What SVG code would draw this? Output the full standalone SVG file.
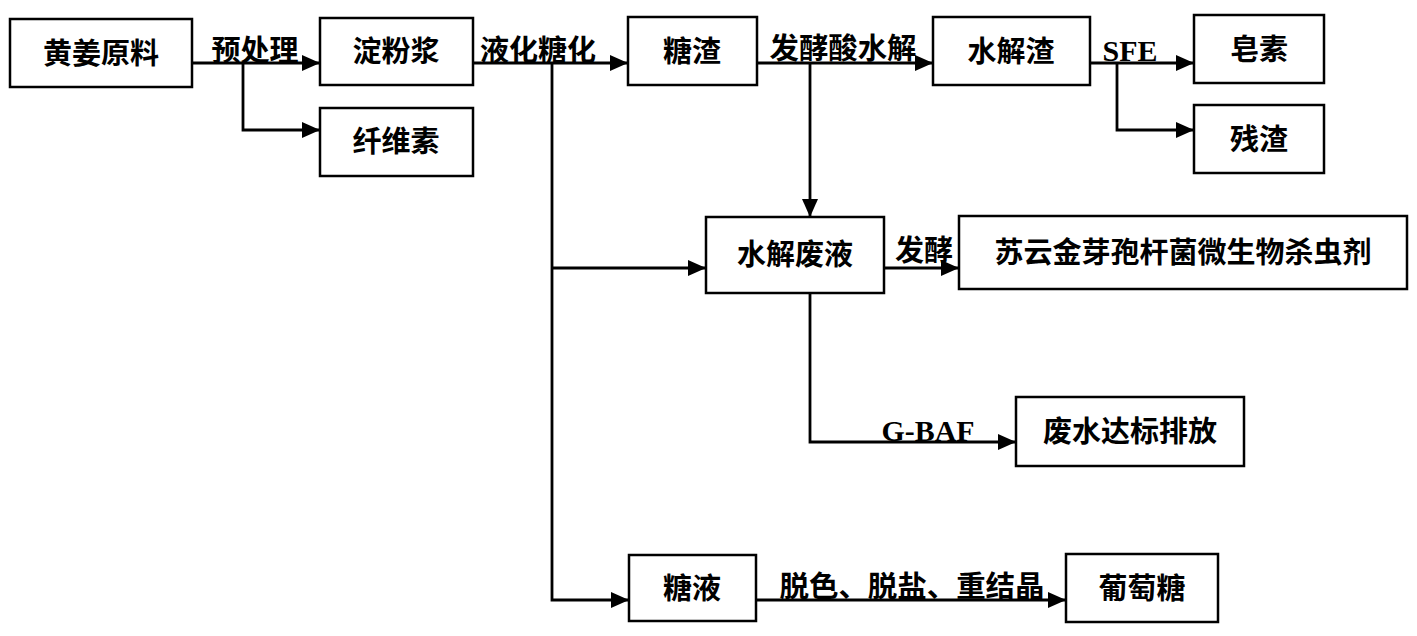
<svg xmlns="http://www.w3.org/2000/svg" width="1417" height="636" viewBox="0 0 1417 636">
<defs>
<marker id="ah" markerUnits="userSpaceOnUse" markerWidth="18" markerHeight="16" refX="18" refY="8" orient="auto">
<path d="M0,0 L18,8 L0,16 z" fill="#000"/>
</marker>
<style>
.box{fill:#fff;stroke:#000;stroke-width:2.5}
.bt{font-family:"Liberation Serif","Noto Sans CJK SC",serif;font-size:29px;text-anchor:middle;fill:#000;font-weight:bold}
.lt{font-family:"Liberation Serif","Noto Sans CJK SC",serif;font-size:29px;text-anchor:middle;fill:#000;font-weight:bold}
.en{font-family:"Liberation Serif",serif;font-size:30px;font-weight:bold;fill:#000;text-anchor:middle}
.ar{fill:none;stroke:#000;stroke-width:2.8;marker-end:url(#ah)}
</style>
</defs>
<rect width="1417" height="636" fill="#fff"/>
<g id="connectors">
<path class="ar" d="M192,63 H320"/>
<path class="ar" d="M243,63 V130 H320"/>
<path class="ar" d="M473,63 H628"/>
<path class="ar" d="M552,63 V600 H629"/>
<path class="ar" d="M552,268 H706"/>
<path class="ar" d="M757,63 H933"/>
<path class="ar" d="M810,63 V217"/>
<path class="ar" d="M1090,63 H1194"/>
<path class="ar" d="M1117,63 V130 H1194"/>
<path class="ar" d="M884,268 H959"/>
<path class="ar" d="M810,293 V442 H1016"/>
<path class="ar" d="M756,600 H1066"/>
<text class="lt" x="255" y="61">预处理</text>
<text class="lt" x="538" y="61">液化糖化</text>
<text class="lt" x="843" y="59" textLength="147" lengthAdjust="spacingAndGlyphs">发酵酸水解</text>
<text class="en" x="1130" y="61" textLength="55" lengthAdjust="spacingAndGlyphs">SFE</text>
<text class="lt" x="924" y="261">发酵</text>
<text class="en" x="928" y="441" textLength="93" lengthAdjust="spacingAndGlyphs">G-BAF</text>
<text class="lt" x="912" y="597" textLength="265" lengthAdjust="spacingAndGlyphs">脱色、脱盐、重结晶</text>
</g>
<g id="n1"><rect class="box" x="10" y="19" width="182" height="68"/><text class="bt" x="101" y="64">黄姜原料</text></g>
<g id="n2"><rect class="box" x="320" y="18" width="153" height="67"/><text class="bt" x="396" y="62">淀粉浆</text></g>
<g id="n3"><rect class="box" x="320" y="108" width="153" height="68"/><text class="bt" x="396" y="152">纤维素</text></g>
<g id="n4"><rect class="box" x="628" y="17" width="129" height="68"/><text class="bt" x="692" y="62">糖渣</text></g>
<g id="n5"><rect class="box" x="933" y="17" width="157" height="68"/><text class="bt" x="1011" y="62">水解渣</text></g>
<g id="n6"><rect class="box" x="1194" y="15" width="130" height="68"/><text class="bt" x="1259" y="60">皂素</text></g>
<g id="n7"><rect class="box" x="1194" y="105" width="130" height="68"/><text class="bt" x="1259" y="150">残渣</text></g>
<g id="n8"><rect class="box" x="706" y="217" width="178" height="76"/><text class="bt" x="795" y="265">水解废液</text></g>
<g id="n9"><rect class="box" x="959" y="216" width="448" height="73"/><text class="bt" x="1183" y="263">苏云金芽孢杆菌微生物杀虫剂</text></g>
<g id="n10"><rect class="box" x="1016" y="397" width="228" height="69"/><text class="bt" x="1130" y="442">废水达标排放</text></g>
<g id="n11"><rect class="box" x="629" y="555" width="127" height="66"/><text class="bt" x="692" y="599">糖液</text></g>
<g id="n12"><rect class="box" x="1066" y="554" width="152" height="68"/><text class="bt" x="1142" y="599">葡萄糖</text></g>
</svg>
